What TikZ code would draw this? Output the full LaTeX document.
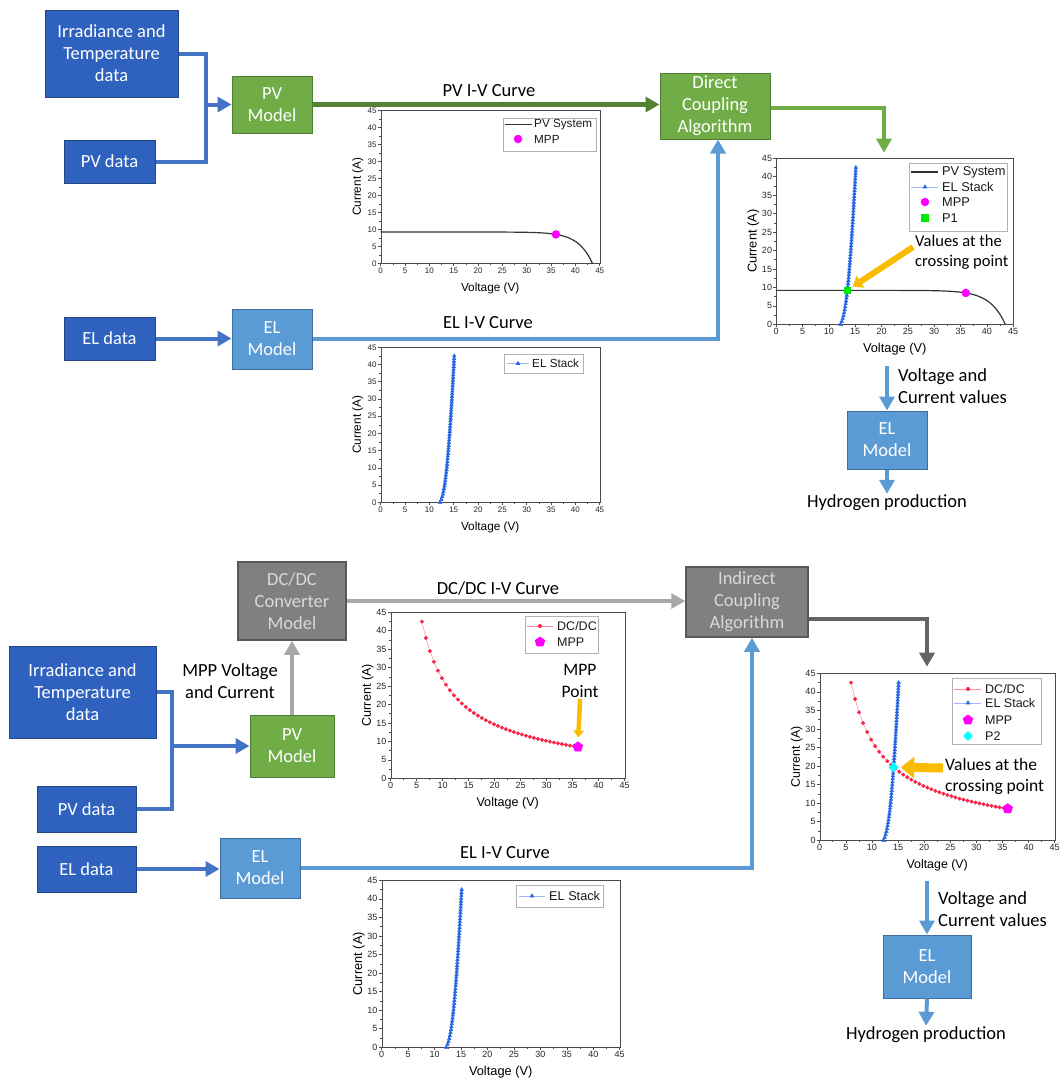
\documentclass[tikz,border=0pt]{standalone}
\usepackage{fontspec}
\setmainfont{Carlito}
\newfontfamily\plotfont{Liberation Sans}
\usetikzlibrary{arrows.meta,shapes.geometric,plotmarks}
\definecolor{datablue}{RGB}{47,98,190}
\definecolor{datablueedge}{RGB}{35,70,135}
\definecolor{pvgreen}{RGB}{112,173,71}
\definecolor{pvgreenedge}{RGB}{80,126,50}
\definecolor{elblue}{RGB}{91,155,213}
\definecolor{elblueedge}{RGB}{62,110,160}
\definecolor{convgray}{RGB}{128,128,128}
\definecolor{convgrayedge}{RGB}{88,88,88}
\definecolor{inwireblue}{RGB}{68,114,196}
\definecolor{curvegreen}{RGB}{84,130,53}
\definecolor{lightwire}{RGB}{168,168,168}
\definecolor{darkwire}{RGB}{100,100,100}
\definecolor{calloutgold}{RGB}{250,188,0}
\definecolor{mppmagenta}{RGB}{255,0,255}
\definecolor{stackblue}{RGB}{35,100,230}
\definecolor{dcdcred}{RGB}{250,35,70}
\definecolor{ponegreen}{RGB}{0,235,0}
\definecolor{ptwocyan}{RGB}{0,255,255}

\tikzset{
  block/.style={draw, line width=1pt, align=center, inner sep=0pt, text=white,
    font=\fontsize{18.5}{22}\selectfont},
  databox/.style={block, fill=datablue, draw=datablueedge},
  pvbox/.style={block, fill=pvgreen, draw=pvgreenedge},
  elbox/.style={block, fill=elblue, draw=elblueedge},
  convbox/.style={block, fill=convgray, draw=convgrayedge, line width=1.5pt, text=white!85!black},
  note/.style={align=center, inner sep=1pt, font=\fontsize{18.5}{22}\selectfont},
  wiretip/.style={-{Triangle[length=14pt,width=15pt]}},
  inwire/.style={draw=inwireblue, line width=4pt},
  inarrow/.style={inwire, wiretip},
  pvarrow/.style={draw=curvegreen, line width=5pt, wiretip},
  dcaarrow/.style={draw=pvgreen, line width=4pt, wiretip},
  elarrow/.style={draw=elblue, line width=4pt, wiretip},
  lightarrow/.style={draw=lightwire, line width=4.5pt, wiretip},
  darkarrow/.style={draw=darkwire, line width=4.5pt, wiretip},
  callout/.style={draw=calloutgold, line width=#1, -{Triangle[length=0pt 1.5, width=0pt 2.3]}},
  % chart parts
  plotframe/.style={draw=black!70, line width=0.6pt, inner sep=0pt, fill=white},
  axistick/.style={draw=black!70, line width=0.6pt},
  ticklab/.style={inner sep=0.5pt, text=black!85},
  legbox/.style={draw=black!30, line width=0.5pt, inner sep=0pt, fill=white},
  legtext/.style={anchor=west, inner sep=1pt, text=black!90, font=\plotfont\fontsize{#1}{#1}\selectfont},
  legtext/.default=11.7,
  pvcurve/.style={draw=black!80, line width=1.2pt},
  stackline/.style={draw=stackblue!45, line width=0.5pt},
  dcdcline/.style={draw=dcdcred!55, line width=0.5pt},
  stackcurve/.style={stackline, mark=triangle*, mark size=2pt, mark options={draw=stackblue, fill=stackblue}},
  dcdccurve/.style={dcdcline, mark=*, mark size=1.7pt, mark options={draw=dcdcred, fill=dcdcred}},
  mppdot/.style={circle, fill=mppmagenta, inner sep=0pt, minimum size=8.5pt},
  mpppent/.style={regular polygon, regular polygon sides=5, fill=mppmagenta, inner sep=0pt, minimum size=11pt},
  ponesq/.style={rectangle, fill=ponegreen, inner sep=0pt, minimum size=7.5pt},
  ptwodia/.style={diamond, fill=ptwocyan, inner sep=0pt, minimum size=10pt},
  stacktri/.style={regular polygon, regular polygon sides=3, fill=stackblue, inner sep=0pt, minimum size=5.5pt},
  dcdcdot/.style={circle, fill=dcdcred, inner sep=0pt, minimum size=4pt}
}

% axes of one I-V chart, drawn in data units (0..45 V, 0..45 A)
\newcommand{\ivaxes}[3]{%
  \foreach \v in {0,5,...,45}{
    \draw[axistick] (\v,0) -- ++(0,-3pt);
    \draw[axistick] (0,\v) -- ++(-3pt,0);
    \node[ticklab, anchor=north, font=\plotfont\fontsize{#2}{#2}\selectfont] (#1x\v) at ([yshift=-3.5pt]\v,0) {\v};
    \node[ticklab, anchor=east, font=\plotfont\fontsize{#2}{#2}\selectfont] (#1y\v) at ([xshift=-3.5pt]0,\v) {\v};
  }
  \foreach \v in {2.5,7.5,...,42.5}{
    \draw[axistick] (\v,0) -- ++(0,-1.8pt);
    \draw[axistick] (0,\v) -- ++(-1.8pt,0);
  }
  \node[font=\plotfont\fontsize{#3}{#3}\selectfont] (#1volt) at ([yshift=-25pt]22.5,0) {Voltage (V)};
  \node[font=\plotfont\fontsize{#3}{#3}\selectfont, rotate=90] (#1curr) at ([xshift=-23pt]0,22.5) {Current (A)};
}

\begin{document}
\begin{tikzpicture}[x=1pt, y=-1pt]
\useasboundingbox (0,0) rectangle (1064,1082);

%%% direct coupling
\node[databox, minimum width=133pt, minimum height=87pt] (irrA) at (111.5,53.5) {Irradiance and\\Temperature\\data};
\node[databox, minimum width=91pt, minimum height=43pt] (pvdA) at (109.5,161.5) {PV data};
\node[pvbox, minimum width=80pt, minimum height=57pt] (pvmA) at (272,104.5) {PV\\Model};
\node[pvbox, minimum width=110pt, minimum height=66pt] (dca) at (715,106) {Direct\\Coupling\\Algorithm};
\node[databox, minimum width=91pt, minimum height=43pt] (eldA) at (109.5,338.5) {EL data};
\node[elbox, minimum width=80pt, minimum height=60pt] (elmA) at (272,339) {EL\\Model};
\node[elbox, minimum width=80pt, minimum height=58pt] (elmB) at (887,440) {EL\\Model};

\node[note] (pvivA) at (489,91) {PV I-V Curve};
\node[note] (elivA) at (488,323) {EL I-V Curve};
\node[note, align=left, anchor=west] (vcA) at (897,386) {Voltage and\\Current values};
\node[note] (htwoA) at (887,503) {Hydrogen production};

% PV I-V chart
\node[plotframe, minimum width=219pt, minimum height=153pt] (plotA) at (490.5,186.5) {};
\begin{scope}[shift={(plotA.south west)}, x=4.8667pt, y=3.4pt]
  \ivaxes{A}{8}{11.8}
  \draw[pvcurve] plot[domain=0:43.5, samples=90, variable=\u] (\u,{9.2*(1-exp((\u-43.5)/2.91))});
  \node[mppdot] (mppA) at (36,8.5) {};
\end{scope}
\node[legbox, minimum width=93pt, minimum height=33pt, anchor=north west] (legA) at (503,118) {};
\draw[pvcurve] (505,124.5) -- (532,124.5);
\node[legtext] (legAa) at (533,124.5) {PV System};
\node[mppdot] (legAm) at (518,139) {};
\node[legtext] (legAb) at (533,139) {MPP};

% EL I-V chart
\node[plotframe, minimum width=219pt, minimum height=155pt] (plotB) at (490.5,424.5) {};
\begin{scope}[shift={(plotB.south west)}, x=4.8667pt, y=3.4444pt]
  \ivaxes{B}{8}{11.8}
  \draw[stackcurve] plot[domain=0:42.5, samples=55, variable=\amp] ({12.2+0.55*ln(1+\amp/1.5)+0.025*\amp},\amp);
\end{scope}
\node[legbox, minimum width=79pt, minimum height=19pt, anchor=north west] (legB) at (504,354) {};
\draw[stackline] (507,363.5) -- (529,363.5);
\node[stacktri] (legBm) at (518,363.5) {};
\node[legtext] (legBa) at (531,363.5) {EL Stack};

% crossing chart
\node[plotframe, minimum width=237pt, minimum height=166pt] (plotC) at (895,241) {};
\begin{scope}[shift={(plotC.south west)}, x=5.2667pt, y=3.6889pt]
  \ivaxes{C}{9}{12.8}
  \draw[pvcurve] plot[domain=0:43.5, samples=90, variable=\u] (\u,{9.2*(1-exp((\u-43.5)/2.91))});
  \draw[stackcurve] plot[domain=0:42.5, samples=55, variable=\amp] ({12.2+0.55*ln(1+\amp/1.5)+0.025*\amp},\amp);
  \node[mppdot] (mppC) at (36,8.5) {};
  \node[ponesq] (ptone) at (13.5,9.2) {};
\end{scope}
\node[legbox, minimum width=98pt, minimum height=68pt, anchor=north west] (legC) at (909,163) {};
\draw[pvcurve] (911,172) -- (938,172);
\node[legtext=12.8] (legCa) at (941,172) {PV System};
\draw[stackline] (911,187) -- (938,187);
\node[stacktri] (legCm) at (925,187) {};
\node[legtext=12.8] (legCb) at (941,187) {EL Stack};
\node[mppdot] (legCp) at (925,202) {};
\node[legtext=12.8] (legCc) at (941,202) {MPP};
\node[ponesq] (legCq) at (925,218) {};
\node[legtext=12.8] (legCd) at (941,218) {P1};
\node[note, align=left, anchor=west, font=\fontsize{16.5}{20}\selectfont] (valsC) at (914,252) {Values at the\\crossing point};
\coordinate (calltailC) at (913,247);
\draw[callout=6pt, shorten >=2pt] (calltailC) -- (ptone);

% connectors
\coordinate (jnA) at (206,104.5);
\draw[inwire] (irrA.east) -| (jnA) |- (pvdA.east);
\draw[inarrow] (jnA) -- (pvmA.west);
\draw[inarrow] (eldA.east) -- (eldA.east -| elmA.west);
\draw[pvarrow] (pvmA.east) -- (pvmA.east -| dca.west);
\draw[elarrow] (elmA.east) -| ([xshift=3pt]dca.south);
\draw[dcaarrow, shorten >=5pt] ([yshift=-2pt]dca.east) -| ([xshift=-11pt]plotC.north);
\draw[elarrow, shorten <=7pt] (elmB.north |- Cvolt.south) -- (elmB.north);
\draw[elarrow] (elmB.south) -- (htwoA.north);

%%% indirect coupling
\node[databox, minimum width=147pt, minimum height=92pt] (irrB) at (82.5,692) {Irradiance and\\Temperature\\data};
\node[databox, minimum width=99pt, minimum height=46pt] (pvdB) at (86.5,809) {PV data};
\node[databox, minimum width=99pt, minimum height=46pt] (eldB) at (86.5,869) {EL data};
\node[pvbox, minimum width=84pt, minimum height=62pt] (pvmB) at (292,746) {PV\\Model};
\node[convbox, minimum width=108pt, minimum height=78pt] (dcdc) at (292,601) {DC/DC\\Converter\\Model};
\node[convbox, minimum width=122pt, minimum height=70pt] (idc) at (747,602) {Indirect\\Coupling\\Algorithm};
\node[elbox, minimum width=80pt, minimum height=60pt] (elmC) at (260,868) {EL\\Model};
\node[elbox, minimum width=88pt, minimum height=63pt] (elmD) at (927,966.5) {EL\\Model};

\node[note] (dcdciv) at (498,588) {DC/DC I-V Curve};
\node[note] (mppvc) at (230,681) {MPP Voltage\\and Current};
\node[note] (elivB) at (505,853) {EL I-V Curve};
\node[note, align=left, anchor=west] (vcB) at (937,909) {Voltage and\\Current values};
\node[note] (htwoB) at (926,1035) {Hydrogen production};

% DC/DC I-V chart
\node[plotframe, minimum width=234pt, minimum height=166pt] (plotD) at (508,695) {};
\begin{scope}[shift={(plotD.south west)}, x=5.2pt, y=3.6889pt]
  \ivaxes{D}{9}{12.6}
  \draw[dcdccurve] plot[domain=6:36, samples=40, variable=\u] (\u,{(306-0.0567*(36-\u)^2)/\u});
  \node[mpppent] (mppD) at (36,8.5) {};
\end{scope}
\node[legbox, minimum width=73pt, minimum height=37pt, anchor=north west] (legD) at (525,616) {};
\draw[dcdcline] (527,626) -- (553,626);
\node[dcdcdot] (legDm) at (540,626) {};
\node[legtext=12.5] (legDa) at (556,626) {DC/DC};
\node[mpppent] (legDp) at (540,642) {};
\node[legtext=12.5] (legDb) at (556,642) {MPP};
\node[note, font=\fontsize{17.5}{22}\selectfont] (mpptxt) at (580,681) {MPP\\Point};
\draw[callout=4.5pt, shorten >=4pt] (mpptxt.south) -- (mppD);

% crossing chart
\node[plotframe, minimum width=235pt, minimum height=167pt] (plotE) at (937.5,756.5) {};
\begin{scope}[shift={(plotE.south west)}, x=5.2222pt, y=3.7111pt]
  \ivaxes{E}{9}{12.4}
  \draw[dcdccurve] plot[domain=6:36, samples=40, variable=\u] (\u,{(306-0.0567*(36-\u)^2)/\u});
  \draw[stackcurve] plot[domain=0:42.5, samples=55, variable=\amp] ({12.2+0.55*ln(1+\amp/1.5)+0.025*\amp},\amp);
  \node[mpppent] (mppE) at (36,8.5) {};
  \node[ptwodia] (pttwo) at (14.15,19.7) {};
\end{scope}
\node[legbox, minimum width=89pt, minimum height=66pt, anchor=north west] (legE) at (952,678) {};
\draw[dcdcline] (954,689) -- (981,689);
\node[dcdcdot] (legEm) at (968,689) {};
\node[legtext=12.5] (legEa) at (984,689) {DC/DC};
\draw[stackline] (954,703) -- (981,703);
\node[stacktri] (legEt) at (968,703) {};
\node[legtext=12.5] (legEb) at (984,703) {EL Stack};
\node[mpppent] (legEp) at (968,720) {};
\node[legtext=12.5] (legEc) at (984,720) {MPP};
\node[ptwodia] (legEq) at (968,736) {};
\node[legtext=12.5] (legEd) at (984,736) {P2};
\node[note, align=left, anchor=west, font=\fontsize{17.5}{21}\selectfont] (valsE) at (944,776) {Values at the\\crossing point};
\coordinate (calltailE) at (943,768);
\draw[callout=9pt, shorten >=2pt] (calltailE) -- (pttwo);

% EL I-V chart
\node[plotframe, minimum width=238pt, minimum height=167pt] (plotF) at (501,963.5) {};
\begin{scope}[shift={(plotF.south west)}, x=5.2889pt, y=3.7111pt]
  \ivaxes{F}{9}{12.8}
  \draw[stackcurve] plot[domain=0:42.5, samples=55, variable=\amp] ({12.2+0.55*ln(1+\amp/1.5)+0.025*\amp},\amp);
\end{scope}
\node[legbox, minimum width=87pt, minimum height=22pt, anchor=north west] (legF) at (516,885) {};
\draw[stackline] (519,896) -- (545,896);
\node[stacktri] (legFm) at (532,896) {};
\node[legtext=12.7] (legFa) at (548,896) {EL Stack};

% connectors
\coordinate (jnB) at (172,746);
\draw[inwire] (irrB.east) -| (jnB) |- (pvdB.east);
\draw[inarrow] (jnB) -- (pvmB.west);
\draw[inarrow] (eldB.east) -- (eldB.east -| elmC.west);
\draw[lightarrow] (pvmB.north) -- (dcdc.south);
\draw[lightarrow] (dcdc.east) -- (dcdc.east -| idc.west);
\draw[elarrow] (elmC.east) -| ([xshift=5pt]idc.south);
\draw[darkarrow, shorten >=6pt] ([yshift=-17pt]idc.east) -| ([xshift=-10.5pt]plotE.north);
\draw[elarrow, shorten <=6pt] (elmD.north |- Evolt.south) -- (elmD.north);
\draw[elarrow] (elmD.south) -- (htwoB.north);
\end{tikzpicture}
\end{document}
